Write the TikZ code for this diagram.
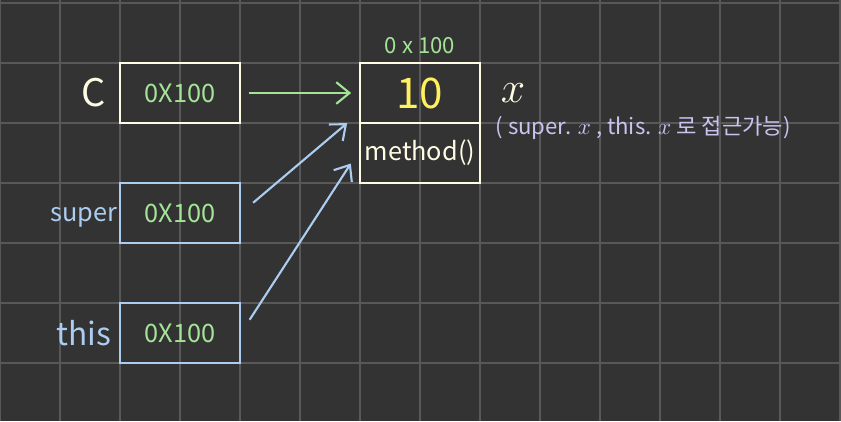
\documentclass[tikz,border=0pt]{standalone}
\usepackage{fontspec}
\setmainfont{Noto Sans CJK KR}
\usetikzlibrary{positioning,arrows.meta}
\definecolor{board}{RGB}{51,51,51}
\definecolor{gridcol}{RGB}{88,88,88}
\definecolor{cream}{RGB}{255,252,228}
\definecolor{addrgreen}{RGB}{163,228,150}
\definecolor{refblue}{RGB}{172,205,240}
\definecolor{valyellow}{RGB}{255,240,95}
\definecolor{notelav}{RGB}{204,194,240}
\tikzset{>={Straight Barb[length=2.2mm,width=3.6mm]},
line cap=round,
el/.style={font=\fontsize{12}{14}\selectfont},
ve/.style={rectangle,draw,line width=1pt,minimum width=2cm,minimum height=1cm,inner sep=0pt},
va/.style={ve,draw=cream},
vr/.style={ve,draw=refblue},
addr/.style={el,text=addrgreen},
ptr/.style={->,line width=1pt,shorten <=7.5pt,shorten >=8pt},
}

\begin{document}
\begin{tikzpicture}
\useasboundingbox (0,-0.967) rectangle (14.017,6.05);
\fill[board] (0,-0.967) rectangle (14.017,6.05);
\draw[gridcol,line width=0.9pt] (0,-0.967) grid (14.017,6.05);

% reference variables
\node[va,addr] (cvar) at (3,4.5) {0X100};
\node[vr,addr] (supervar) at (3,2.5) {0X100};
\node[vr,addr] (thisvar) at (3,0.5) {0X100};
\node[el,text=cream,font=\fontsize{18}{20}\selectfont,left=0.1cm of cvar] (cname) {C};
\node[el,text=refblue,left=-0.1cm of supervar,yshift=-2pt] (supername) {super};
\node[el,text=refblue,font=\fontsize{15}{17}\selectfont,left=0cm of thisvar] (thisname) {this};

% object on the heap
\node[va,text=valyellow,font=\fontsize{20}{22}\selectfont] (xval) at (7,4.5) {10};
\node[va,el,text=cream] (meth) at (7,3.5) {method()};
\node[addr,font=\fontsize{10.5}{12}\selectfont,above=0.02cm of xval] (objaddr) {0 x 100};
\node[text=cream,font=\fontsize{20}{22}\selectfont] (xname) at (8.55,4.5) {$x$};
\node[text=notelav,font=\fontsize{10.5}{12}\selectfont] (note) at (10.72,3.92) {( super. $x$ , this. $x$ 로 접근가능)};

\coordinate (hitx) at (6,4.18);
\coordinate (hitm) at (6,3.56);

\path
(cvar) edge[ptr,addrgreen,shorten <=3.7pt,shorten >=3.7pt] (xval)
(supervar.east) edge[ptr,refblue] (hitx)
(thisvar.east) edge[ptr,refblue] (hitm)
;
\end{tikzpicture}
\end{document}
